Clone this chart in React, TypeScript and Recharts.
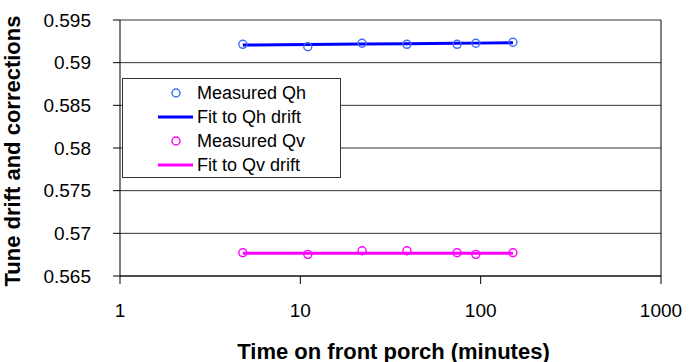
import {
  ComposedChart,
  Line,
  Scatter,
  XAxis,
  YAxis,
  CartesianGrid,
  ReferenceLine,
  Legend,
} from 'recharts';

const TIME_MIN = [4.8, 11, 22, 39, 74, 94, 151];
const QH_MEASURED = [0.59215, 0.59187, 0.59227, 0.59215, 0.59215, 0.59227, 0.59239];
const QH_FIT = [0.59207, 0.59213, 0.59218, 0.59223, 0.59228, 0.59229, 0.59233];
const QV_MEASURED = [0.56773, 0.56754, 0.56796, 0.56796, 0.56773, 0.56754, 0.56773];
const QV_FIT = [0.56766, 0.56766, 0.56766, 0.56766, 0.56766, 0.56766, 0.56766];

const X_TICKS = [1, 10, 100, 1000];
const Y_TICKS = [0.565, 0.57, 0.575, 0.58, 0.585, 0.59, 0.595];

const FONT = '"Liberation Sans", Arial, sans-serif';
const QH_MARK = '#3f6cff';
const QH_LINE = '#0000ff';
const QV_COLOR = '#ff00ff';

const rows = TIME_MIN.map((t, i) => ({
  t,
  qh: QH_MEASURED[i],
  qhFit: QH_FIT[i],
  qv: QV_MEASURED[i],
  qvFit: QV_FIT[i],
}));

const LEGEND_ITEMS = [
  { name: 'Measured Qh', kind: 'marker', color: QH_MARK },
  { name: 'Fit to Qh drift', kind: 'line', color: QH_LINE },
  { name: 'Measured Qv', kind: 'marker', color: QV_COLOR },
  { name: 'Fit to Qv drift', kind: 'line', color: QV_COLOR },
];

function ringShape(color: string) {
  return (props: any) => (
    <circle cx={props.cx} cy={props.cy} r={4} fill="none" stroke={color} strokeWidth={1.4} />
  );
}

function BoxLegend() {
  return (
    <div
      style={{
        border: '1px solid #333',
        background: '#fff',
        width: 219,
        height: 100,
        boxSizing: 'border-box',
        paddingTop: 2,
        fontFamily: FONT,
        fontSize: 18,
        color: '#000',
      }}
    >
      {LEGEND_ITEMS.map((item) => (
        <div key={item.name} style={{ display: 'flex', alignItems: 'center', height: 24 }}>
          <svg width={74} height={24}>
            {item.kind === 'marker' ? (
              <circle cx={53} cy={12} r={4} fill="none" stroke={item.color} strokeWidth={1.4} />
            ) : (
              <line x1={35} y1={12} x2={70} y2={12} stroke={item.color} strokeWidth={3} />
            )}
          </svg>
          <span>{item.name}</span>
        </div>
      ))}
    </div>
  );
}

export default function App() {
  return (
    <div style={{ position: 'absolute', left: 0, top: 0, background: '#fff' }}>
      <ComposedChart
        width={689}
        height={362}
        data={rows}
        margin={{ top: 20, right: 28, bottom: 0, left: 0 }}
        style={{ fontFamily: FONT }}
      >
        <CartesianGrid horizontal vertical={false} stroke="#333" strokeOpacity={1} />
        <XAxis
          dataKey="t"
          type="number"
          scale="log"
          domain={[1, 1000]}
          ticks={X_TICKS}
          allowDataOverflow
          height={86}
          stroke="#000"
          tickSize={8}
          tickMargin={20}
          tick={{ fill: '#000', fontSize: 19 }}
          label={{
            value: 'Time on front porch (minutes)',
            content: ({ viewBox }: any) => (
              <text
                x={viewBox.x + viewBox.width / 2 + 3}
                y={351}
                textAnchor="middle"
                dominantBaseline="central"
                style={{ fontSize: 22, fontWeight: 'bold', fill: '#000', fontFamily: FONT }}
              >
                Time on front porch (minutes)
              </text>
            ),
          }}
        />
        <YAxis
          type="number"
          domain={[0.565, 0.595]}
          ticks={Y_TICKS}
          width={120}
          stroke="#000"
          tickSize={7}
          tickMargin={22}
          tickFormatter={(v: number) => String(Number(v.toFixed(3)))}
          tick={{ fill: '#000', fontSize: 19 }}
          label={{
            value: 'Tune drift and corrections',
            content: ({ viewBox }: any) => {
              const cy = viewBox.y + viewBox.height / 2 + 3;
              return (
                <text
                  x={12}
                  y={cy}
                  transform={`rotate(-90 12 ${cy})`}
                  textAnchor="middle"
                  dominantBaseline="central"
                  style={{ fontSize: 22, fontWeight: 'bold', fill: '#000', fontFamily: FONT }}
                >
                  Tune drift and corrections
                </text>
              );
            },
          }}
        />
        <ReferenceLine x={1000} stroke="#000" ifOverflow="extendDomain" />
        <Legend
          layout="vertical"
          align="center"
          verticalAlign="middle"
          wrapperStyle={{ left: 122, top: 78, width: 219, height: 100 }}
          content={() => <BoxLegend />}
        />
        <Scatter name="Measured Qh" dataKey="qh" shape={ringShape(QH_MARK)} isAnimationActive={false} />
        <Line
          name="Fit to Qh drift"
          dataKey="qhFit"
          stroke={QH_LINE}
          strokeWidth={3}
          dot={false}
          activeDot={false}
          isAnimationActive={false}
        />
        <Scatter name="Measured Qv" dataKey="qv" shape={ringShape(QV_COLOR)} isAnimationActive={false} />
        <Line
          name="Fit to Qv drift"
          dataKey="qvFit"
          stroke={QV_COLOR}
          strokeWidth={3}
          dot={false}
          activeDot={false}
          isAnimationActive={false}
        />
      </ComposedChart>
    </div>
  );
}
